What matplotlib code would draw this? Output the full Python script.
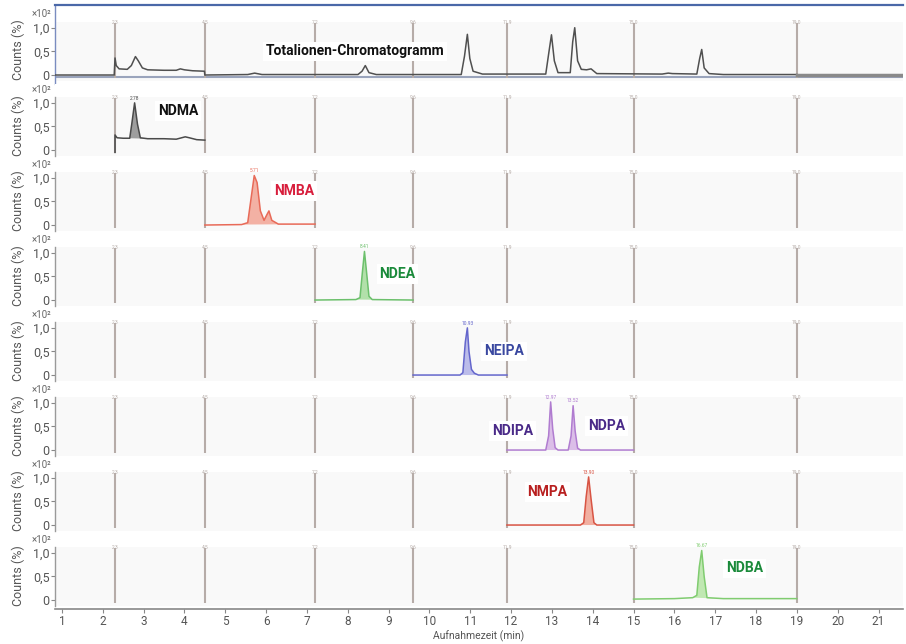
import matplotlib
matplotlib.use("Agg")
import matplotlib.pyplot as plt
from matplotlib.transforms import blended_transform_factory

plt.rcParams['font.family'] = ['Roboto', 'DejaVu Sans']

# ---------------- data ----------------
segment_times = [2.3, 4.5, 7.2, 9.6, 11.9, 15.0, 19.0]
x_ticks = list(range(1, 22))
y_ticks = [0, 0.5, 1.0]
y_tick_labels = ["0", "0,5", "1,0"]

# Panel 1: total ion chromatogram
tic_t = [0.83, 2.28, 2.30, 2.33, 2.40, 2.60, 2.70, 2.80, 2.87, 2.97, 3.10, 3.50, 3.80, 3.90,
         4.00, 4.20, 4.49, 4.50, 5.55, 5.72, 5.90, 8.25, 8.35, 8.43, 8.52, 8.70, 10.78,
         10.86, 10.93, 10.99, 11.07, 11.30, 12.85, 12.93, 12.99, 13.06, 13.15, 13.45,
         13.51, 13.56, 13.63, 13.72, 13.85, 13.96, 14.10, 15.70, 15.85, 15.95, 16.55,
         16.62, 16.67, 16.73, 16.85, 17.20, 19.00]
tic_y = [0.0, 0.0, 0.36, 0.20, 0.13, 0.12, 0.20, 0.39, 0.30, 0.15, 0.11, 0.10, 0.10, 0.13,
         0.11, 0.09, 0.08, 0.0, 0.01, 0.04, 0.01, 0.01, 0.08, 0.20, 0.05, 0.01, 0.01,
         0.40, 0.86, 0.35, 0.08, 0.02, 0.02, 0.50, 0.85, 0.30, 0.05, 0.05,
         0.70, 1.00, 0.30, 0.12, 0.11, 0.13, 0.03, 0.02, 0.04, 0.03, 0.02,
         0.35, 0.54, 0.15, 0.03, 0.01, 0.01]
tic_tail_t = [19.0, 21.6]
tic_tail_y = [0.0, 0.0]

# Panel 2: NDMA
ndma_t = [2.30, 2.30, 2.35, 2.50, 2.66, 2.71, 2.78, 2.85, 2.92, 3.10, 3.50, 3.80, 4.02, 4.12, 4.30, 4.50]
ndma_y = [-0.05, 0.32, 0.26, 0.25, 0.25, 0.55, 1.00, 0.55, 0.26, 0.24, 0.24, 0.23, 0.28, 0.26, 0.22, 0.21]
ndma_peak = (4, 9)

# Panel 3: NMBA
nmba_t = [4.50, 5.40, 5.55, 5.63, 5.71, 5.78, 5.86, 5.95, 6.02, 6.07, 6.14, 6.30, 7.20]
nmba_y = [0.00, 0.01, 0.05, 0.55, 1.05, 0.90, 0.30, 0.10, 0.22, 0.30, 0.10, 0.02, 0.02]
nmba_peak = (1, 12)

# Panel 4: NDEA
ndea_t = [7.20, 8.20, 8.30, 8.36, 8.41, 8.46, 8.52, 8.60, 9.60]
ndea_y = [0.00, 0.01, 0.05, 0.60, 1.03, 0.60, 0.08, 0.01, 0.00]
ndea_peak = (1, 8)

# Panel 5: NEIPA
neipa_t = [9.60, 10.75, 10.82, 10.88, 10.93, 10.97, 11.03, 11.10, 11.20, 11.90]
neipa_y = [0.00, 0.00, 0.05, 0.70, 1.00, 0.50, 0.12, 0.04, 0.00, 0.00]
neipa_peak = (1, 9)

# Panel 6: NDIPA + NDPA
ndpa_t = [11.90, 12.85, 12.92, 12.97, 13.02, 13.08, 13.15, 13.40, 13.47, 13.52, 13.57, 13.63, 13.70, 15.00]
ndpa_y = [0.00, 0.00, 0.30, 1.02, 0.45, 0.05, 0.00, 0.00, 0.30, 0.94, 0.40, 0.04, 0.00, 0.00]
ndipa_peak = (1, 7)
ndpa_peak = (7, 13)

# Panel 7: NMPA
nmpa_t = [11.90, 13.70, 13.78, 13.84, 13.90, 13.96, 14.03, 14.10, 15.00]
nmpa_y = [0.00, 0.00, 0.05, 0.60, 1.02, 0.55, 0.05, 0.00, 0.00]
nmpa_peak = (1, 8)

# Panel 8: NDBA
ndba_t = [15.00, 16.00, 16.45, 16.55, 16.61, 16.67, 16.73, 16.80, 17.20, 19.00]
ndba_y = [0.02, 0.03, 0.05, 0.10, 0.70, 1.05, 0.50, 0.05, 0.03, 0.03]
ndba_peak = (2, 8)

# ---------------- figure ----------------
fig = plt.figure(figsize=(9.06, 6.44), dpi=100)
left, right = 55 / 906, 903 / 906
bottom = 35 / 644
h = 75.0 / 644
n = 8
xlim = (0.83, 21.6)
ylim = (-0.19, 1.40)

axes = []
for i in range(n):
    hh = h + (4 / 644 if i == 0 else 0)
    ax = fig.add_axes([left, bottom + (n - 1 - i) * h, right - left, hh])
    axes.append(ax)
    ax.set_xlim(*xlim)
    ax.set_ylim(*ylim) if i > 0 else ax.set_ylim(ylim[0], ylim[1] + 0.08)
    ax.set_facecolor('white')
    ax.axhspan(-0.12, 1.12, color='#f9f9f9', zorder=0, lw=0)
    for s in ['top', 'right', 'bottom']:
        ax.spines[s].set_visible(False)
    ax.spines['left'].set_color('#9a9a9a')
    ax.spines['left'].set_bounds(-0.12, 1.12)
    ax.spines['left'].set_linewidth(1.0)
    ax.set_yticks(y_ticks)
    ax.set_yticklabels(y_tick_labels)
    ax.tick_params(axis='y', length=3, width=0.8, colors='#888888', labelcolor='#555555',
                   labelsize=9, pad=1)
    ax.set_ylabel("Counts (%)", color='#555555', fontsize=9, labelpad=4)
    ax.yaxis.set_label_coords(-0.035, 0.45 if i > 0 else 0.43)
    ax.text(-0.004, 1.28, "×10²", transform=blended_transform_factory(ax.transAxes, ax.transData),
            ha='right', va='center', fontsize=7, color='#666666')
    # segment lines
    for st in segment_times:
        ax.vlines(st, -0.06, 1.10, color='#b6acа8'.replace('а', 'a') if False else '#b6aca8',
                  lw=1.5, zorder=2)
        ax.text(st, 1.12, f"{st:.1f}", ha='center', va='center', fontsize=3.5,
                color='#b6aca8', zorder=2)
    if i < n - 1:
        ax.set_xticks([])

# Panel 1 TIC
ax = axes[0]
ax.plot(tic_t, tic_y, color='#505050', lw=1.1, zorder=3)
ax.plot(tic_tail_t, tic_tail_y, color='#8a8a8a', lw=2.5, zorder=3)
ax.spines['top'].set_visible(True)
ax.spines['top'].set_color('#4a68a8')
ax.spines['top'].set_linewidth(1.6)
ax.spines['left'].set_color('#7a8cc0')
ax.spines['left'].set_bounds(-0.19, 1.48)
ax.axhline(-0.04, color='#9aa4bc', lw=1.5, zorder=1)
ax.text(6.0, 0.5, "Totalionen-Chromatogramm", fontsize=10, fontweight='bold', color='#111111',
        ha='left', va='center', zorder=5,
        bbox=dict(facecolor='white', edgecolor='none', pad=2))

panels = [
    (axes[1], ndma_t, ndma_y, [ndma_peak], '#4a4a4a', '#8e8e8e', [("NDMA", 3.35, 0.83, '#111111')]),
    (axes[2], nmba_t, nmba_y, [nmba_peak], '#e86a58', '#f3a595', [("NMBA", 6.2, 0.72, '#d81e3c')]),
    (axes[3], ndea_t, ndea_y, [ndea_peak], '#6cc06c', '#a6dc9c', [("NDEA", 8.78, 0.55, '#1a8a3a')]),
    (axes[4], neipa_t, neipa_y, [neipa_peak], '#6466cc', '#b0b2e8', [("NEIPA", 11.34, 0.50, '#3a48a0')]),
    (axes[5], ndpa_t, ndpa_y, [ndipa_peak, ndpa_peak], '#b07cd0', '#d6b4e6',
     [("NDIPA", 11.54, 0.40, '#4a2a88'), ("NDPA", 13.88, 0.51, '#4a2a88')]),
    (axes[6], nmpa_t, nmpa_y, [nmpa_peak], '#d85444', '#f0a292', [("NMPA", 12.4, 0.70, '#b82020')]),
    (axes[7], ndba_t, ndba_y, [ndba_peak], '#80cc70', '#b6e6a6', [("NDBA", 17.26, 0.67, '#1a8a3a')]),
]

for ax, t, y, peaks, lc, fc, labels in panels:
    for (a, b) in peaks:
        ax.fill(t[a:b + 1], y[a:b + 1], color=fc, alpha=0.85, lw=0, zorder=3)
        k = max(range(a, b + 1), key=lambda j: y[j])
        ax.text(t[k], y[k] + 0.05, f"{t[k]:.2f}", ha='center', va='bottom', fontsize=3.5,
                color=lc, zorder=4)
    ax.plot(t, y, color=lc, lw=1.1, zorder=4)
    for (txt, lx, ly, col) in labels:
        ax.text(lx, ly, txt, fontsize=10, fontweight='bold', color=col, ha='left', va='center',
                zorder=5, bbox=dict(facecolor='white', edgecolor='none', pad=2))

# bottom axis
ax = axes[-1]
ax.spines['bottom'].set_visible(True)
ax.spines['bottom'].set_color('#888888')
ax.spines['bottom'].set_linewidth(1.2)
ax.set_xticks(x_ticks)
ax.set_xticklabels([str(v) for v in x_ticks])
ax.tick_params(axis='x', length=3, width=0.8, colors='#888888', labelcolor='#555555',
               labelsize=8.5, pad=1)
ax.set_xlabel("Aufnahmezeit (min)", color='#555555', fontsize=7.5, labelpad=2)

fig.savefig("out.png", dpi=100)
